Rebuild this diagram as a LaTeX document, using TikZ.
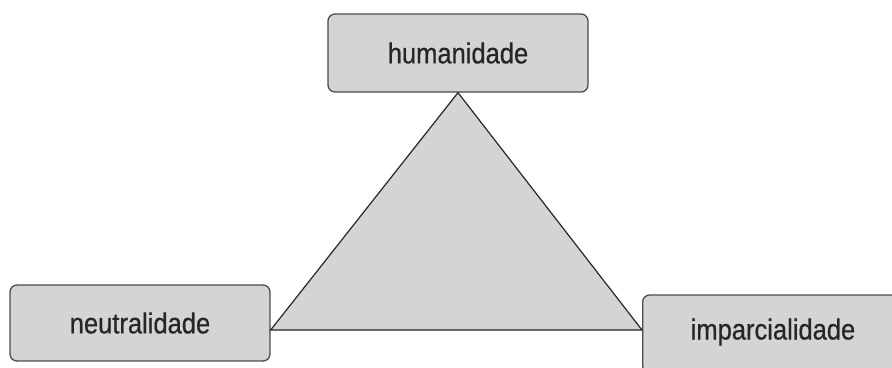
\documentclass[tikz,border=0pt]{standalone}
\usepackage{fontspec}
\setmainfont[FakeStretch=0.88, FakeBold=0.6]{Liberation Sans}
\begin{document}
\begin{tikzpicture}[x=1pt,y=-1pt,
  valuebox/.style={draw=black!70, fill=black!17, line width=1.3pt,
    rounded corners=7pt, inner sep=0pt, text=black!85,
    font=\fontsize{29}{32}\selectfont},
  label/.style={font=\fontsize{29}{32}\selectfont, text=black!85, inner sep=0pt},
  tri/.style={draw=black!85, fill=black!17, line width=1.2pt, line join=miter}]
  \useasboundingbox (0,0) rectangle (892,367);
  \clip (0,0) rectangle (892,367);
  % the three principles
  \node[valuebox, minimum width=260pt, minimum height=78pt] (hum) at (458,53) {humanidade};
  \node[valuebox, minimum width=260pt, minimum height=76pt] (neu) at (140,323) {neutralidade};
  \node[valuebox, minimum width=264pt, minimum height=78pt, anchor=west] (imp) at (642,334) {};
  \node[label] (impt) at (773,332) {imparcialidade};
  % triangle joining them
  \coordinate (top) at (hum.south);
  \coordinate (left) at (neu.east |- 0,330);
  \coordinate (right) at (imp.west |- 0,330);
  \draw[tri] (top) -- (left) -- (right) -- cycle;
\end{tikzpicture}
\end{document}
